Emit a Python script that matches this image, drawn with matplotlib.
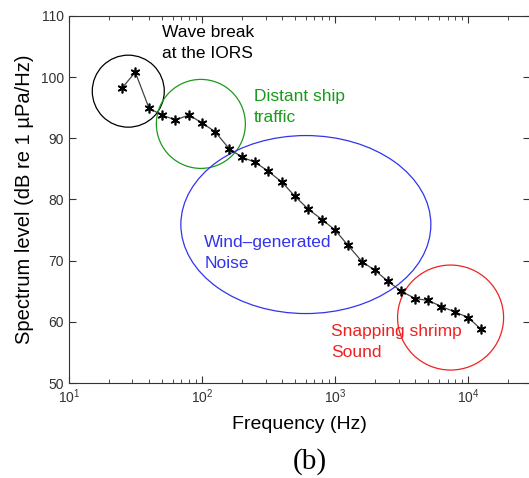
import numpy as np
import matplotlib
matplotlib.use("Agg")
import matplotlib.pyplot as plt
from matplotlib.patches import Ellipse
from matplotlib.transforms import ScaledTranslation

# 1/3-octave band centre frequencies (Hz) and spectrum levels (dB re 1 uPa/Hz)
freq = [25, 31.5, 40, 50, 63, 80, 100, 125, 160, 200, 250, 315, 400, 500,
        630, 800, 1000, 1250, 1600, 2000, 2500, 3150, 4000, 5000, 6300,
        8000, 10000, 12500]
level = [98.2, 100.8, 94.9, 93.8, 93.0, 93.8, 92.5, 91.1, 88.3, 86.9, 86.1,
         84.6, 82.8, 80.5, 78.4, 76.7, 75.0, 72.5, 69.8, 68.4, 66.6, 65.0,
         63.8, 63.5, 62.5, 61.6, 60.7, 58.8]

# source regions: label, colour, centre freq, centre level, width/height in px, label pos
region_labels = ["Wave break\nat the IORS", "Distant ship\ntraffic",
                 "Wind\u2013generated\nNoise", "Snapping shrimp\nSound"]
region_colors = ["black", "#1a9a1a", "#3333ee", "#ee2222"]
region_freq = [27.9, 98, 603, 7380]
region_level = [97.7, 92.35, 75.9, 60.7]
region_w = [72, 89, 250, 106]
region_h = [72, 89, 178, 105]
label_freq = [50, 245, 104, 930]
label_level = [105.5, 95.1, 71.3, 56.7]

plt.rcParams['font.family'] = ['Liberation Sans', 'DejaVu Sans']

fig = plt.figure(figsize=(5.29, 4.78), dpi=100)
ax = fig.add_axes([0.1304, 0.1987, 0.8715, 0.768])

ax.plot(freq, level, color="#444444", lw=0.9, marker=(6, 2, 0),
        markersize=7, markeredgecolor="black", markeredgewidth=1.2)

ax.set_xscale("log")
ax.set_xlim(10, 10 ** 4.465)
ax.set_ylim(50, 110)
ax.set_yticks(np.arange(50, 111, 10))

for i in range(len(region_labels)):
    tr = fig.dpi_scale_trans + ScaledTranslation(region_freq[i], region_level[i], ax.transData)
    ax.add_patch(Ellipse((0, 0), region_w[i] / 100, region_h[i] / 100,
                         transform=tr, fill=False, edgecolor=region_colors[i], lw=0.9))
    ax.text(label_freq[i], label_level[i], region_labels[i], color=region_colors[i],
            fontsize=12.5, va="center", ha="left", linespacing=1.5)

ax.tick_params(which="both", direction="in", top=True, right=True,
               colors="#333333", labelsize=10)
ax.tick_params(which="major", length=5)
ax.tick_params(which="minor", length=3)
for side in ["left", "bottom", "top"]:
    ax.spines[side].set_color("#333333")
ax.spines["right"].set_visible(False)

ax.set_xlabel("Frequency (Hz)", fontsize=14, labelpad=7)
ax.set_ylabel("Spectrum level (dB re 1 \u00b5Pa/Hz)", fontsize=14.5, labelpad=5)

fig.text(0.586, 0.035, "(b)", fontsize=21, family=["Liberation Serif", "DejaVu Serif"],
         ha="center", va="center")

fig.savefig("out.png", dpi=100)
